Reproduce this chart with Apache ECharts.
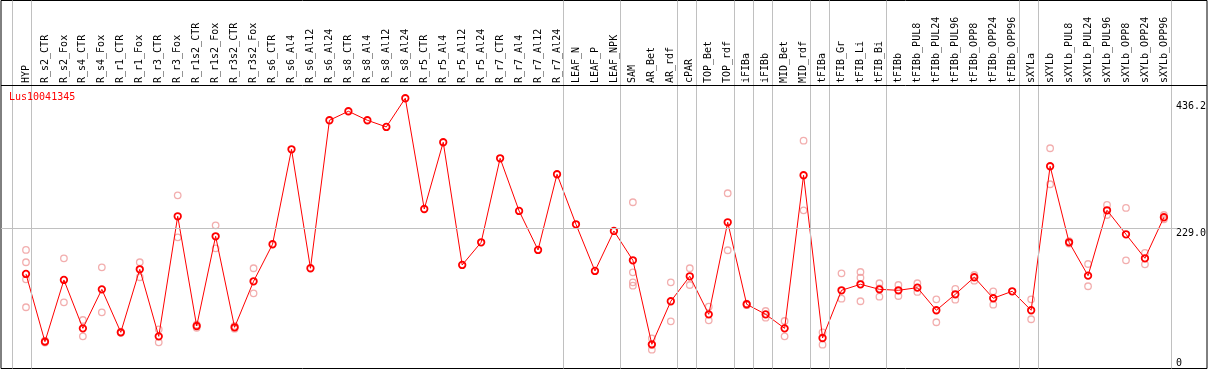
<!DOCTYPE html>
<html>
<head>
<meta charset="utf-8">
<script src="https://cdn.jsdelivr.net/npm/echarts@6/dist/echarts.min.js"></script>
<style>html,body{margin:0;padding:0;background:#fff;}#c{width:1209px;height:370px;}</style>
</head>
<body>
<div id="c"></div>
<script>
const geneName = 'Lus10041345';
const categories = ['HYP','R_s2_CTR','R_s2_Fox','R_s4_CTR','R_s4_Fox','R_r1_CTR','R_r1_Fox','R_r3_CTR','R_r3_Fox','R_r1s2_CTR','R_r1s2_Fox','R_r3s2_CTR','R_r3s2_Fox','R_s6_CTR','R_s6_Al4','R_s6_Al12','R_s6_Al24','R_s8_CTR','R_s8_Al4','R_s8_Al12','R_s8_Al24','R_r5_CTR','R_r5_Al4','R_r5_Al12','R_r5_Al24','R_r7_CTR','R_r7_Al4','R_r7_Al12','R_r7_Al24','LEAF_N','LEAF_P','LEAF_NPK','SAM','AR_Bet','AR_rdf','cPAR','TOP_Bet','TOP_rdf','iFIBa','iFIBb','MID_Bet','MID_rdf','tFIBa','tFIB_Gr','tFIB_Li','tFIB_Bi','tFIBb','tFIBb_PUL8','tFIBb_PUL24','tFIBb_PUL96','tFIBb_OPP8','tFIBb_OPP24','tFIBb_OPP96','sXYLa','sXYLb','sXYLb_PUL8','sXYLb_PUL24','sXYLb_PUL96','sXYLb_OPP8','sXYLb_OPP24','sXYLb_OPP96'];
const meanValues = [154.4,43.8,144.6,65.6,129.3,59.1,162.0,52.5,248.6,69.4,215.9,67.3,142.4,202.9,358.0,163.7,405.4,420.1,405.4,394.5,441.4,260.5,369.5,169.1,206.1,343.3,257.3,193.6,317.2,235.5,159.3,224.6,176.7,39.5,109.8,150.6,88.5,238.8,104.9,88.5,65.6,315.6,49.8,127.7,137.5,129.3,127.7,132.0,95.1,121.2,149.0,114.7,126.1,95.1,330.3,206.1,151.6,258.4,219.2,180.0,247.0];
const replicateValues = [
  [193.6,173.5,145.7,100.0],[45.5,42.5],[180.0,108.1],[79.2,52.5],[165.3,91.8],[60.0,58.2],[173.5,149.0],[64.0,42.8],[282.9,214.3],[71.5,66.5],
  [233.9,196.3],[69.5,65.0],[163.7,122.8],[],[],[],[],[],[],[],
  [],[],[],[],[],[],[],[],[],[],
  [],[],[271.5,157.1,140.8,135.3],[49.3,38.5,30.8],[140.8,77.1],[163.7,136.4],[101.0,78.7],[286.2,193.1],[106.0,103.5],[93.9,83.0],
  [77.6,52.5],[372.1,258.4],[59.1,38.9],[155.5,114.0],[157.6,148.3,109.8],[139.2,131.0,117.3],[136.4,118.4],[139.2,125.0],[113.0,75.5],[129.9,112.4],
  [152.7,143.4],[126.1,104.2],[],[113.0,80.4],[359.7,300.9],[208.0,204.0],[170.7,134.3],[267.1,250.7],[262.2,176.7],[188.7,170.2],
  [250.7,243.7]
];
const groupSizes = [1,28,3,3,1,2,1,1,2,1,3,7,1,7];
const yTickValues = [0, 229.0, 436.2];
const yTickLabels = ['0', '229.0', '436.2'];
const gridLineValue = 229.0;

// layout
const cell = 19;
const mainLeft = 16.5, mainRight = mainLeft + cell * categories.length;
const mainTop = 85, mainBottom = 368.5;
const frameLeft = 1, frameRight = 1207, frameTop = 0.5, frameBottom = 368.5;
const yMax = 463;
const fxMin = -(mainLeft - frameLeft) / cell - 0.5;
const fxMax = categories.length - 0.5 + (frameRight - mainRight) / cell;
const fyMax = yMax * (frameBottom - frameTop) / (mainBottom - mainTop);
const font = 'DejaVu Sans Mono';

const boundaries = [-1];
let acc = 0;
groupSizes.forEach(s => { acc += s; boundaries.push(acc - 1); });

const repData = [];
replicateValues.forEach((arr, i) => arr.forEach(v => repData.push([categories[i], v])));

const grayLine = { color: '#c0c0c0', width: 1, type: 'solid' };
const markData = boundaries.map(b => ({ xAxis: b + 0.25, lineStyle: grayLine }));
markData.push([{ coord: [fxMin, gridLineValue] }, { coord: [(1177 - mainLeft) / cell - 0.5, gridLineValue], lineStyle: grayLine }]);
markData.push({ yAxis: yMax, lineStyle: { color: '#000', width: 1, type: 'solid' } });

const chart = echarts.init(document.getElementById('c'), null, { renderer: 'canvas' });
chart.setOption({
  animation: false,
  backgroundColor: '#fff',
  title: { text: geneName, left: 9, top: 92, padding: 0, textStyle: { color: '#ff0000', fontFamily: font, fontSize: 10, fontWeight: 'normal' } },
  grid: [
    { left: mainLeft, top: mainTop, width: mainRight - mainLeft, height: mainBottom - mainTop },
    { left: frameLeft, top: frameTop, width: frameRight - frameLeft, height: frameBottom - frameTop, show: true, borderColor: '#000', borderWidth: 1, backgroundColor: 'transparent' }
  ],
  xAxis: [
    { type: 'category', gridIndex: 0, position: 'top', data: categories, boundaryGap: true,
      axisLine: { show: false }, axisTick: { show: false }, splitLine: { show: false },
      axisLabel: { interval: 0, rotate: 90, margin: 2, fontFamily: font, fontSize: 10, color: '#000' } },
    { type: 'value', gridIndex: 1, min: fxMin, max: fxMax, show: false }
  ],
  yAxis: [
    { type: 'value', gridIndex: 0, position: 'right', min: 0, max: yMax,
      axisLine: { show: false }, axisTick: { show: false }, splitLine: { show: false },
      axisLabel: { customValues: yTickValues, margin: 2.5, fontFamily: font, fontSize: 10, color: '#000',
        verticalAlign: 'top', verticalAlignMinLabel: 'bottom', lineHeight: 10.5, showMinLabel: true, showMaxLabel: true,
        formatter: v => { const k = yTickValues.indexOf(v); return k >= 0 ? yTickLabels[k] : ''; } } },
    { type: 'value', gridIndex: 1, min: 0, max: fyMax, show: false }
  ],
  series: [
    { type: 'line', xAxisIndex: 1, yAxisIndex: 1, data: [], silent: true,
      markLine: { silent: true, symbol: 'none', label: { show: false }, animation: false, data: markData } },
    { type: 'scatter', xAxisIndex: 0, yAxisIndex: 0, data: repData, symbol: 'circle', symbolSize: 6.5, z: 2,
      itemStyle: { color: 'rgba(0,0,0,0)', borderColor: '#ef9a9a', borderWidth: 1.3 } },
    { type: 'line', xAxisIndex: 0, yAxisIndex: 0, data: meanValues, symbol: 'circle', symbolSize: 6.5, z: 3,
      showAllSymbol: true,
      lineStyle: { color: '#ff0000', width: 1 },
      itemStyle: { color: 'rgba(0,0,0,0)', borderColor: '#ff0000', borderWidth: 1.8 } }
  ]
});
</script>
</body>
</html>
